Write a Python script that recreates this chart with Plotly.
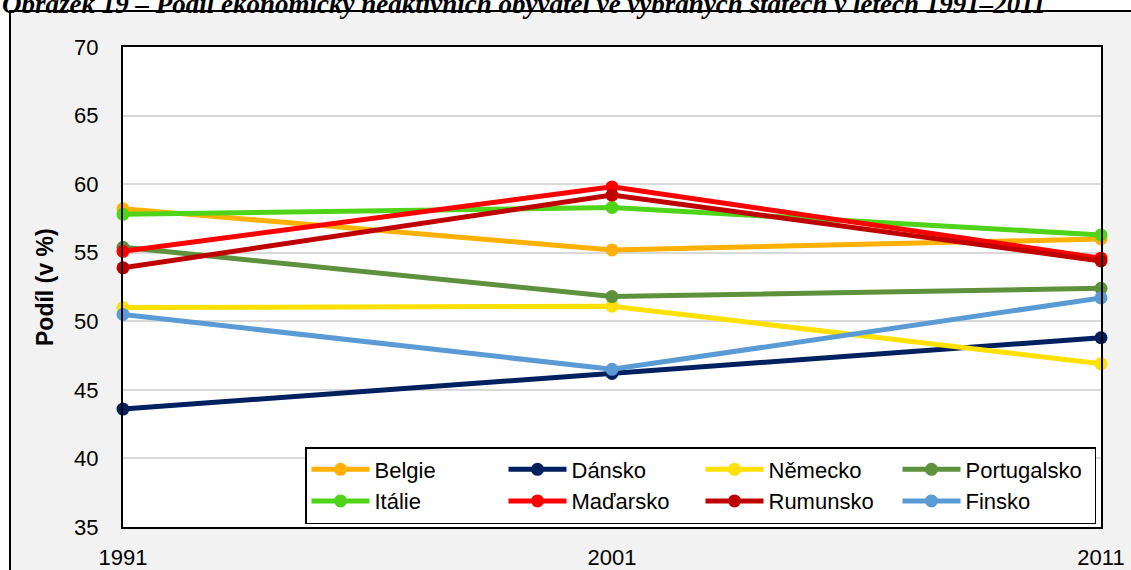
import plotly.graph_objects as go

years = [1991, 2001, 2011]

countries = ["Belgie", "Dánsko", "Německo", "Portugalsko",
             "Itálie", "Maďarsko", "Rumunsko", "Finsko"]

belgie = [58.2, 55.2, 56.0]
dansko = [43.6, 46.2, 48.8]
nemecko = [51.0, 51.1, 46.9]
portugalsko = [55.4, 51.8, 52.4]
italie = [57.8, 58.3, 56.3]
madarsko = [55.1, 59.8, 54.6]
rumunsko = [53.9, 59.2, 54.4]
finsko = [50.5, 46.5, 51.7]

values = [belgie, dansko, nemecko, portugalsko, italie, madarsko, rumunsko, finsko]
colors = ["#FFB000", "#002060", "#FFE000", "#5E913B",
          "#4FD41A", "#FF0000", "#C00000", "#5B9BD5"]

# plot area in pixels: x 123..1101, y 47..527
L, R, T, B = 123, 30, 47, 43
W, H = 1131, 570
pw, ph = W - L - R, H - T - B


def px_x(x):
    return (x - L) / pw


def px_y(y):
    return (H - B - y) / ph


fig = go.Figure()
for name, vals, col in zip(countries, values, colors):
    fig.add_trace(go.Scatter(
        x=years, y=vals, name=name, mode="lines+markers",
        line=dict(color=col, width=5),
        marker=dict(color=col, size=13),
        cliponaxis=False,
    ))

fig.update_layout(
    width=W, height=H,
    margin=dict(l=L, r=R, t=T, b=B, autoexpand=False),
    paper_bgcolor="white",
    plot_bgcolor="white",
    font=dict(family="Liberation Sans, Arial", size=22, color="black"),
    showlegend=True,
    legend=dict(
        orientation="h", x=px_x(305), y=px_y(447), xanchor="left", yanchor="top",
        bgcolor="white", bordercolor="black", borderwidth=1.5,
        entrywidth=124, entrywidthmode="pixels", itemwidth=58,
        font=dict(size=22), tracegroupgap=0,
    ),
    xaxis=dict(
        range=[1991, 2011], tickvals=years, showgrid=False, zeroline=False,
        showline=True, linecolor="black", linewidth=2, mirror=True,
        ticks="", ticklabelstandoff=10,
    ),
    yaxis=dict(
        range=[35, 70], dtick=5, showgrid=True, gridcolor="#D9D9D9", gridwidth=1.5,
        zeroline=False, showline=True, linecolor="black", linewidth=2, mirror=True,
        ticks="", ticklabelstandoff=18,
    ),
    shapes=[
        dict(type="rect", xref="paper", yref="paper", layer="below",
             x0=px_x(10), x1=px_x(1140), y0=px_y(580), y1=px_y(11),
             fillcolor="#F2F2F2", line=dict(color="black", width=2)),
        dict(type="rect", xref="paper", yref="paper", layer="below",
             x0=0, x1=1, y0=0, y1=1, fillcolor="white", line=dict(width=0)),
    ],
    annotations=[
        dict(text="<b>Podíl (v %)</b>", xref="paper", yref="paper",
             x=px_x(45), y=0.5, textangle=-90, showarrow=False,
             font=dict(size=23, family="Liberation Sans, Arial"),
             xanchor="center", yanchor="middle"),
        dict(text="<b><i>Obrázek 19 – Podíl ekonomicky neaktivních obyvatel ve vybraných státech v letech 1991–2011</i></b>",
             xref="paper", yref="paper", x=px_x(0), y=px_y(21),
             xanchor="left", yanchor="bottom", showarrow=False,
             font=dict(size=27, family="Liberation Serif, Times New Roman", color="black")),
    ],
)

fig.write_html("out.html", config={"displayModeBar": False},
               post_script="document.body.style.margin='0px';")
